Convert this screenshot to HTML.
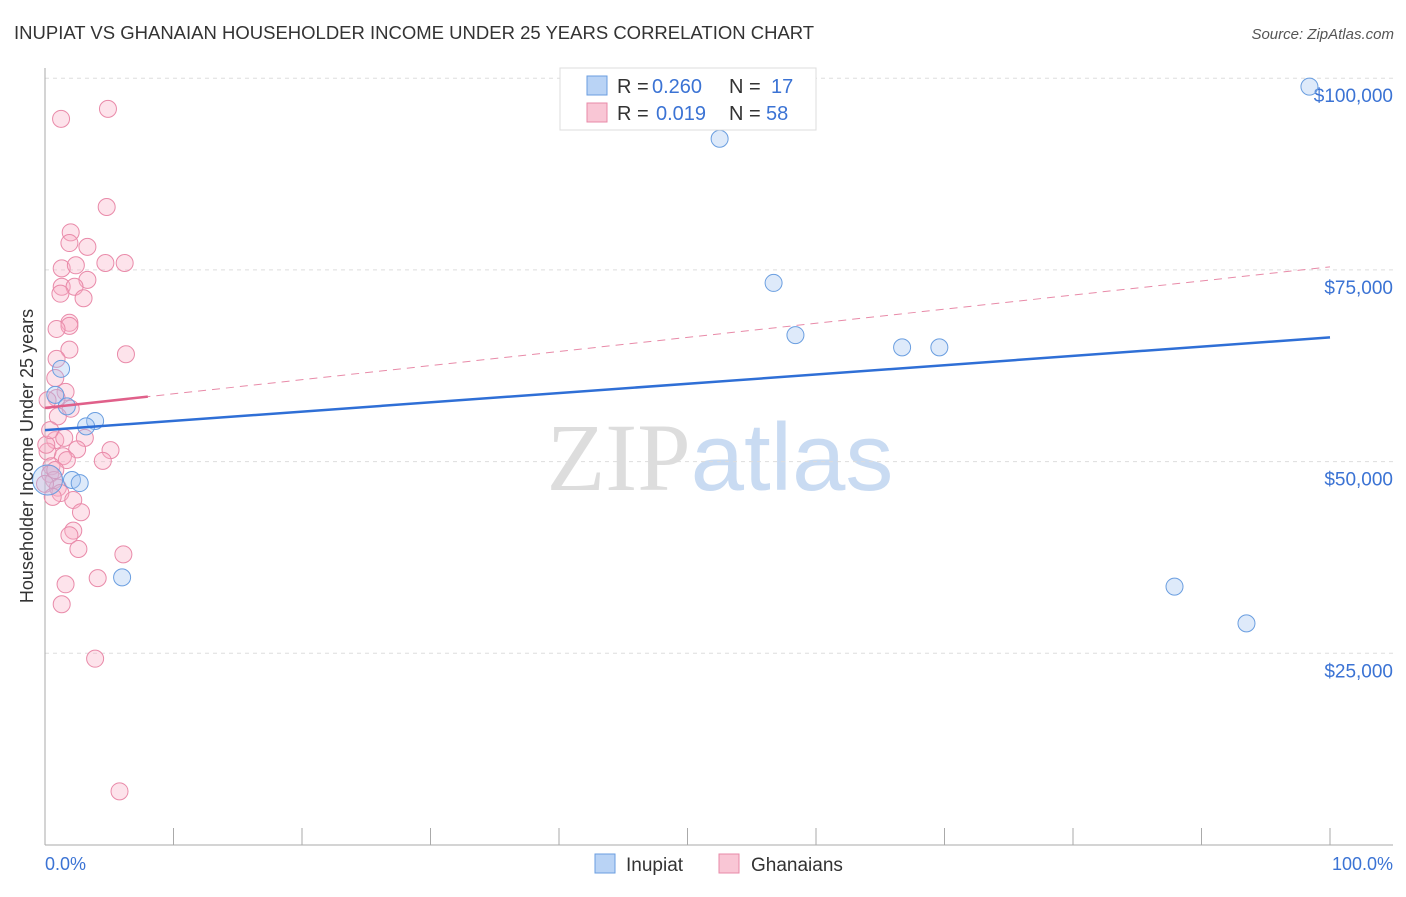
<!DOCTYPE html>
<html><head><meta charset="utf-8"><style>
body{margin:0;background:#fff;font-family:"Liberation Sans",sans-serif;}
svg text{font-family:"Liberation Sans",sans-serif;}
</style></head><body>
<svg id="chart" width="1406" height="892" xmlns="http://www.w3.org/2000/svg">
<text x="14" y="39" font-size="18.5" fill="#333">INUPIAT VS GHANAIAN HOUSEHOLDER INCOME UNDER 25 YEARS CORRELATION CHART</text>
<text x="1394" y="39" font-size="15" fill="#555" text-anchor="end" font-style="italic">Source: ZipAtlas.com</text>
<text x="720" y="490" font-size="96" text-anchor="middle"><tspan fill="#ddd" font-family="Liberation Serif">ZIP</tspan><tspan fill="#c9dbf2">atlas</tspan></text>
<g id="grid"></g>
<g id="axes"></g>
<g id="marks"></g>
<text transform="translate(33,456) rotate(-90)" font-size="18" fill="#333" text-anchor="middle">Householder Income Under 25 years</text>
<text x="45" y="870" font-size="18" fill="#3b73d4">0.0%</text>
<text x="1393" y="870" font-size="18" fill="#3b73d4" text-anchor="end">100.0%</text>
<g>
<rect x="560" y="68" width="256" height="62" fill="#fff" stroke="#ddd"/>
<rect x="587" y="76" width="20" height="19" fill="#b9d3f5" stroke="#6a9ee0"/>
<text x="617" y="93" font-size="20" fill="#333">R =</text>
<text x="652" y="93" font-size="20" fill="#3b73d4">0.260</text>
<text x="729" y="93" font-size="20" fill="#333">N =</text>
<text x="771" y="93" font-size="20" fill="#3b73d4">17</text>
<rect x="587" y="103" width="20" height="19" fill="#f9c6d5" stroke="#e88aa8"/>
<text x="617" y="120" font-size="20" fill="#333">R =</text>
<text x="656" y="120" font-size="20" fill="#3b73d4">0.019</text>
<text x="729" y="120" font-size="20" fill="#333">N =</text>
<text x="766" y="120" font-size="20" fill="#3b73d4">58</text>
</g>
<g>
<rect x="595" y="854" width="20" height="19" fill="#b9d3f5" stroke="#6a9ee0"/>
<text x="626" y="871" font-size="19" fill="#333">Inupiat</text>
<rect x="719" y="854" width="20" height="19" fill="#f9c6d5" stroke="#e88aa8"/>
<text x="751" y="871" font-size="19" fill="#333">Ghanaians</text>
</g>
</svg>
<script>
const yTicks=[25000,50000,75000,100000];
const yTickLabels=["$25,000","$50,000","$75,000","$100,000"];
const blueX=[98.4,52.5,56.7,58.4,66.7,69.6,1.25,0.8,1.7,3.9,3.2,2.1,2.7,6.0,87.9,93.5,0.2];
const blueY=[98.9,92.1,73.3,66.5,64.9,64.9,62.1,58.7,57.2,55.3,54.6,47.6,47.2,34.9,33.7,28.9,47.6];
const pinkX=[1.25,4.9,4.8,2.0,1.9,3.3,1.3,2.4,4.7,6.2,3.3,1.3,2.3,1.2,3.0,1.9,1.9,0.9,1.9,6.3,0.9,0.8,1.6,0.9,2.0,1.0,3.1,0.8,1.5,2.5,5.1,0.2,1.4,4.5,1.7,0.5,0.4,0.7,1.0,0,1.2,0.6,2.2,2.8,2.2,1.9,2.6,6.1,4.1,1.6,1.3,3.9,5.8,0.2,0.1,0.4,0.8];
const pinkY=[94.7,96.0,83.2,79.9,78.5,78.0,75.2,75.6,75.9,75.9,73.7,72.8,72.8,71.9,71.3,68.1,67.7,67.3,64.6,64.0,63.4,60.9,59.1,58.3,56.9,55.9,53.1,52.8,53.1,51.6,51.5,51.3,50.7,50.1,50.2,49.4,48.4,47.6,46.6,47.1,45.9,45.4,45.0,43.4,41.0,40.4,38.6,37.9,34.8,34.0,31.4,24.3,7.0,58.0,52.2,54.1,48.9];
const blueTrend=[54100,66200];
const pinkTrend=[57000,75400];
const NS="http://www.w3.org/2000/svg";
const sx=v=>45+v*12.85;
const sy=v=>845-v/25000*191.7;
function mk(tag,attrs,parent){const e=document.createElementNS(NS,tag);for(const k in attrs)e.setAttribute(k,attrs[k]);document.getElementById(parent).appendChild(e);return e;}
yTicks.forEach((t,i)=>{
 const g=mk('line',{x1:45,x2:1393,y1:sy(t),y2:sy(t),stroke:'#ddd','stroke-dasharray':'4,4'},'grid');
 
 
 const l=mk('text',{x:1393,y:sy(t)+24,'font-size':19,fill:'#3b73d4','text-anchor':'end'},'grid');
 l.textContent=yTickLabels[i];
 
 
});
const ya=mk('line',{x1:45,x2:45,y1:68,y2:845,stroke:'#aaa'},'axes');


const xa=mk('line',{x1:45,x2:1393,y1:845,y2:845,stroke:'#aaa'},'axes');


for(let i=1;i<=10;i++){const t=mk('line',{x1:sx(i*10),x2:sx(i*10),y1:828,y2:845,stroke:'#aaa'},'axes');
 
 }
pinkX.forEach((x,i)=>{const c=mk('circle',{cx:sx(x),cy:sy(pinkY[i]*1000),r:8.5,fill:'rgba(248,175,198,0.35)',stroke:'#e98aa9','stroke-width':1},'marks');
 
 });
blueX.forEach((x,i)=>{const c=mk('circle',{cx:sx(x),cy:sy(blueY[i]*1000),r:i==16?15:8.5,fill:'rgba(160,195,240,0.35)',stroke:'#6a9ee0','stroke-width':1},'marks');
 
 });
const bt=mk('line',{x1:sx(0),x2:sx(100),y1:sy(blueTrend[0]),y2:sy(blueTrend[1]),stroke:'#2f6fd6','stroke-width':2.5},'marks');


const pd=mk('line',{x1:sx(0),x2:sx(100),y1:sy(pinkTrend[0]),y2:sy(pinkTrend[1]),stroke:'#e88aa8','stroke-width':1,'stroke-dasharray':'8,6'},'marks');


const pe=pinkTrend[0]+(pinkTrend[1]-pinkTrend[0])*0.08;
const ps=mk('line',{x1:sx(0),x2:sx(8),y1:sy(pinkTrend[0]),y2:sy(pe),stroke:'#e0608a','stroke-width':2.5},'marks');


</script>
</body></html>
